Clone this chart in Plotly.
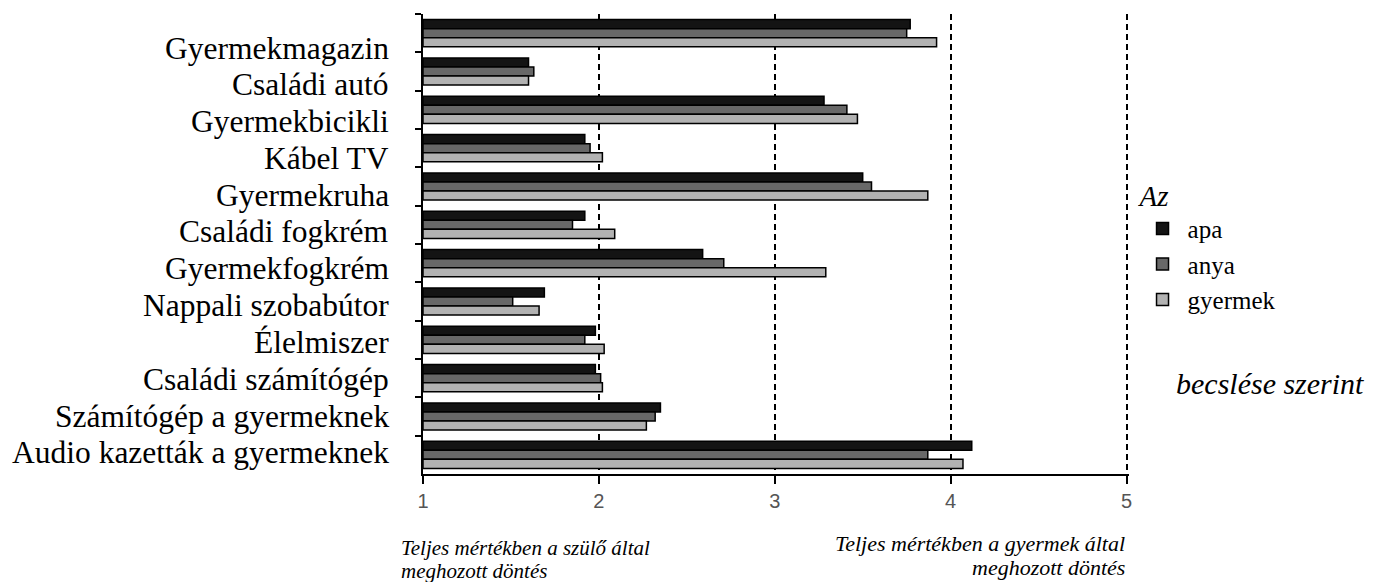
import plotly.graph_objects as go

categories = ["Gyermekmagazin", "Családi autó", "Gyermekbicikli", "Kábel TV",
              "Gyermekruha", "Családi fogkrém", "Gyermekfogkrém",
              "Nappali szobabútor", "Élelmiszer", "Családi számítógép",
              "Számítógép a gyermeknek", "Audio kazetták a gyermeknek"]
apa = [3.77, 1.60, 3.28, 1.92, 3.50, 1.92, 2.59, 1.69, 1.98, 1.98, 2.35, 4.12]
anya = [3.75, 1.63, 3.41, 1.95, 3.55, 1.85, 2.71, 1.51, 1.92, 2.01, 2.32, 3.87]
gyermek = [3.92, 1.60, 3.47, 2.02, 3.87, 2.09, 3.29, 1.66, 2.03, 2.02, 2.27, 4.07]
x_ticks = [1, 2, 3, 4, 5]

series = [("apa", apa, "#141414"), ("anya", anya, "#686868"), ("gyermek", gyermek, "#b2b2b2")]

OFF = 8  # page body margin
W, H = 1376, 574
X_MAX = 5.014
L, T = 415, 6
UNIT = (1127 - 423) / 4.0
PW = UNIT * (X_MAX - 1)
R = W - L - PW
B = H - (474 - OFF)
PH = H - T - B


def px(x):
    return (x - OFF - L) / PW


def py(y):
    return 1 - (y - OFF - T) / PH


fig = go.Figure()
for name, vals, col in series:
    fig.add_trace(go.Bar(y=categories, x=[v - 1 for v in vals], base=1, orientation="h",
                         name=name, marker=dict(color=col, line=dict(color="black", width=1.5))))

serif = "Liberation Serif, Times New Roman, serif"

annotations = []
for i, c in enumerate(categories):
    annotations.append(dict(text=c, xref="paper", yref="paper", x=px(391),
                            y=py(48 + 36.8 * i), xanchor="right", yanchor="middle",
                            showarrow=False, font=dict(family=serif, size=31.5, color="black")))

it = dict(family=serif, color="black", style="italic")
annotations += [
    dict(text="becslése szerint", x=px(1174), y=py(383), xanchor="left", font=dict(size=30, **it)),
    dict(text="Teljes mértékben a szülő által", x=px(399), y=py(548), xanchor="left", font=dict(size=21, **it)),
    dict(text="meghozott döntés", x=px(399), y=py(571), xanchor="left", font=dict(size=21, **it)),
    dict(text="Teljes mértékben a gyermek által", x=px(1127), y=py(543), xanchor="right", font=dict(size=22, **it)),
    dict(text="meghozott döntés", x=px(1127), y=py(567), xanchor="right", font=dict(size=22, **it)),
]
for a in annotations[len(categories):]:
    a.update(xref="paper", yref="paper", yanchor="middle", showarrow=False)

fig.update_layout(
    width=W, height=H,
    margin=dict(l=L, r=R, t=T, b=B),
    paper_bgcolor="white", plot_bgcolor="white",
    barmode="group", bargap=0.29, bargroupgap=0,
    showlegend=True,
    legend=dict(title=dict(text="Az", font=dict(size=29, **it)),
                x=px(1138), y=py(168), xanchor="left", yanchor="top",
                font=dict(family=serif, size=25, color="black"), bgcolor="white",
                traceorder="normal", itemwidth=40),
    xaxis=dict(range=[1, X_MAX], tickvals=x_ticks, ticktext=[str(t) for t in x_ticks],
               showgrid=True, gridcolor="black", griddash="6px,4px", gridwidth=1.5,
               zeroline=False, showline=True, linecolor="black", linewidth=1.5,
               ticks="outside", ticklen=8, tickcolor="black", tickwidth=1.5,
               tickfont=dict(family="Liberation Sans Narrow, Arial Narrow, Liberation Sans, Arial", size=20, color="#555")),
    yaxis=dict(autorange="reversed", showticklabels=False, showgrid=False, zeroline=False,
               showline=True, linecolor="black", linewidth=1.5,
               ticks="outside", tickson="boundaries", ticklen=6, tickcolor="black", tickwidth=1.5),
    annotations=annotations,
)

fig.write_html("out.html")
